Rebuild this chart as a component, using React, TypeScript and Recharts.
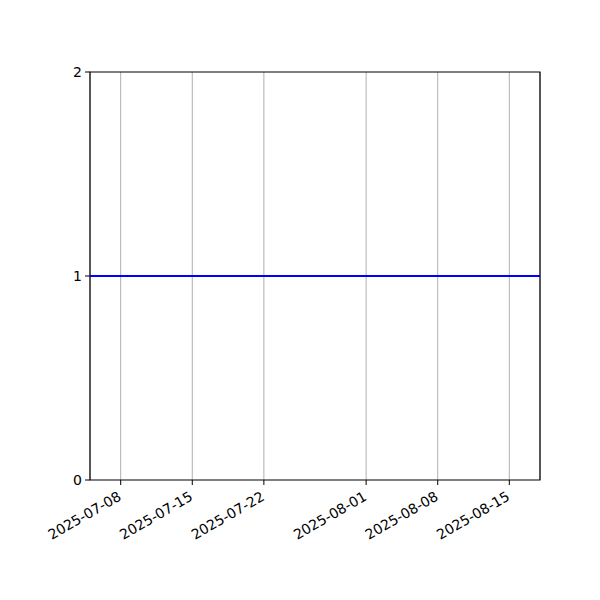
import React from 'react';
import {
  LineChart,
  Line,
  XAxis,
  YAxis,
  CartesianGrid,
  ReferenceArea,
} from 'recharts';

// dates shown on the x axis
const tickDates = ['2025-07-08', '2025-07-15', '2025-07-22', '2025-08-01', '2025-08-08', '2025-08-15'];
// series
const dates = ['2025-07-05', '2025-08-18'];
const values = [1, 1];
const yTicks = [0, 1, 2];

const toTime = (d: string) => Date.parse(d + 'T00:00:00Z');

const data = dates.map((d, i) => ({ t: toTime(d), v: values[i] }));
const xDomain = [toTime(dates[0]), toTime(dates[dates.length - 1])];

const fmt = (t: number) => new Date(t).toISOString().slice(0, 10);

const font = 'DejaVu Sans, sans-serif';

function DateTick(props: any) {
  const { x, y, payload } = props;
  const ax = x - 1;
  const ay = y + 8;
  return (
    <text
      x={ax}
      y={ay}
      textAnchor="end"
      fontSize={14}
      fontFamily={font}
      fill="#000"
      transform={`rotate(-30, ${ax}, ${ay})`}
      dominantBaseline="central"
    >
      {fmt(payload.value)}
    </text>
  );
}

export default function App() {
  return (
    <div style={{ position: 'absolute', left: 0, top: 0, width: 600, height: 600, background: '#fff' }}>
      <LineChart
        width={600}
        height={600}
        data={data}
        margin={{ top: 72, right: 60, bottom: 90, left: 50 }}
      >
        <CartesianGrid horizontal={false} stroke="#b0b0b0" strokeWidth={1} />
        <XAxis
          dataKey="t"
          type="number"
          scale="time"
          domain={xDomain}
          ticks={tickDates.map(toTime)}
          tick={<DateTick />}
          tickLine={{ stroke: '#000' }}
          tickSize={5}
          axisLine={false}
          height={30}
          interval={0}
          allowDataOverflow
        />
        <YAxis
          type="number"
          domain={[0, 2]}
          ticks={yTicks}
          width={40}
          tickSize={5}
          tickMargin={3}
          tickLine={{ stroke: '#000' }}
          axisLine={false}
          tick={{ fill: '#000', fontSize: 14, fontFamily: font }}
        />
        <ReferenceArea
          x1={xDomain[0]}
          x2={xDomain[1]}
          y1={0}
          y2={2}
          fill="none"
          stroke="#000"
          strokeWidth={1.2}
        />
        <Line
          type="linear"
          dataKey="v"
          stroke="#0000ff"
          strokeWidth={2}
          dot={false}
          isAnimationActive={false}
        />
      </LineChart>
    </div>
  );
}
